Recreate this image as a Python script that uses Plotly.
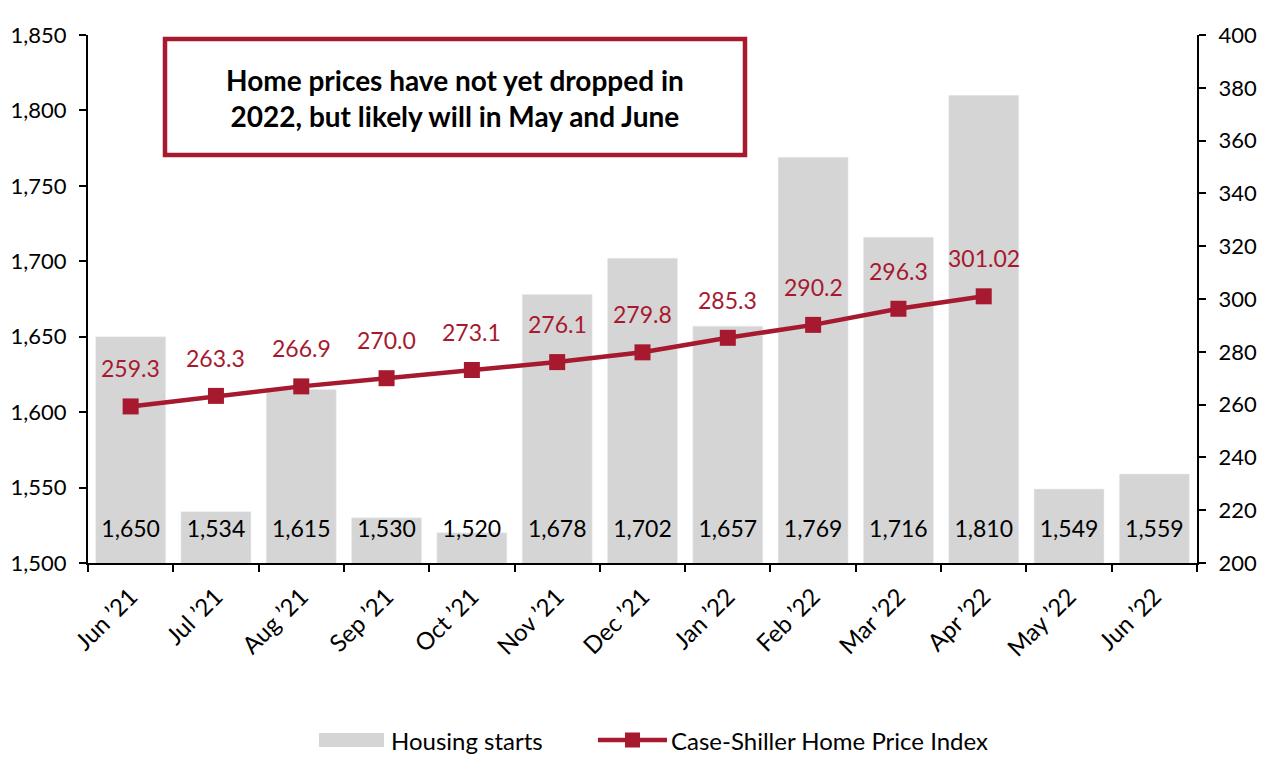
import plotly.graph_objects as go

months = ["Jun ’21", "Jul ’21", "Aug ’21", "Sep ’21", "Oct ’21", "Nov ’21", "Dec ’21",
          "Jan ’22", "Feb ’22", "Mar ’22", "Apr ’22", "May ’22", "Jun ’22"]
housing_starts = [1650, 1534, 1615, 1530, 1520, 1678, 1702, 1657, 1769, 1716, 1810, 1549, 1559]
price_months = months[:11]
price_index = [259.3, 263.3, 266.9, 270.0, 273.1, 276.1, 279.8, 285.3, 290.2, 296.3, 301.02]
price_labels = ["259.3", "263.3", "266.9", "270.0", "273.1", "276.1", "279.8", "285.3", "290.2", "296.3", "301.02"]
box_text = "Home prices have not yet dropped in<br>2022, but likely will in May and June"
legend_names = ["Housing starts", "Case-Shiller Home Price Index"]

FONT = "Lato"
RED = "#a6192e"
GRAY = "#d5d5d5"
FS = 22      # axis ticks
FSD = 23     # data labels
FSX = 24     # x ticks / legend

fig = go.Figure()
fig.add_trace(go.Bar(
    x=months, y=housing_starts, name=legend_names[0],
    marker=dict(color=GRAY), yaxis="y", showlegend=False,
))
# bar labels near the base
fig.add_trace(go.Scatter(
    x=months, y=[1521] * len(months), mode="text",
    text=[f"{v:,}" for v in housing_starts],
    textfont=dict(family=FONT, size=FSD, color="black"),
    showlegend=False, hoverinfo="skip", yaxis="y",
))
fig.add_trace(go.Scatter(
    x=price_months, y=price_index, name=legend_names[1],
    mode="lines+markers", yaxis="y2", showlegend=False,
    line=dict(color=RED, width=4.5),
    marker=dict(symbol="square", size=16, color=RED),
))
for m, v, t in zip(price_months, price_index, price_labels):
    fig.add_annotation(x=m, y=v, xref="x", yref="y2", text=t, showarrow=False,
                       yshift=38, font=dict(family=FONT, size=FSD, color=RED))

# plot area in screen pixels: x 88..1197, y 35..563
PX0, PW, PY0, PH = 88, 1109, 563, 528
def px(x):
    return (x - PX0) / PW
def py(y):
    return (PY0 - y) / PH

# headline box
fig.add_shape(type="rect", xref="paper", yref="paper",
              x0=px(165), x1=px(745), y0=py(155), y1=py(39),
              line=dict(color=RED, width=4.5), fillcolor="white", layer="above")
fig.add_annotation(xref="paper", yref="paper", x=px(455), y=py(98), text=box_text,
                   xanchor="center", yanchor="middle",
                   showarrow=False, font=dict(family=FONT, size=28, color="black", weight="bold"),
                   align="center")

# manual legend
fig.add_shape(type="rect", xref="paper", yref="paper",
              x0=px(319), x1=px(384), y0=py(747), y1=py(733),
              line=dict(width=0), fillcolor=GRAY)
fig.add_annotation(xref="paper", yref="paper", x=px(389), y=py(740), text=legend_names[0],
                   xanchor="left", yanchor="middle", showarrow=False,
                   font=dict(family=FONT, size=FSX, color="black"))
fig.add_shape(type="line", xref="paper", yref="paper",
              x0=px(598), x1=px(667), y0=py(740), y1=py(740),
              line=dict(color=RED, width=4.5))
fig.add_shape(type="rect", xref="paper", yref="paper",
              x0=px(625), x1=px(640), y0=py(747.5), y1=py(732.5),
              line=dict(width=0), fillcolor=RED)
fig.add_annotation(xref="paper", yref="paper", x=px(669), y=py(740), text=legend_names[1],
                   xanchor="left", yanchor="middle", showarrow=False,
                   font=dict(family=FONT, size=FSX, color="black"))

axis_common = dict(showline=True, linecolor="black", linewidth=2, ticks="outside",
                   ticklen=7, tickwidth=2, tickcolor="black", showgrid=False, zeroline=False,
                   automargin=False, ticklabelstandoff=8,
                   tickfont=dict(family=FONT, size=FS, color="black"))

# page renders the figure at offset (8, 8) with ~1264 px width
fig.update_layout(
    width=1264, height=761,
    margin=dict(l=80, r=75, t=27, b=206),
    plot_bgcolor="white", paper_bgcolor="white",
    bargap=0.18,
    showlegend=False,
    xaxis=dict(**{**axis_common, "tickfont": dict(family=FONT, size=FSX, color="black")},
               tickangle=-45, tickson="boundaries",
               categoryorder="array", categoryarray=months,
               range=[-0.5, len(months) - 0.5]),
    yaxis=dict(**axis_common, range=[1500, 1850], dtick=50, tickformat=","),
    yaxis2=dict(**axis_common, range=[200, 400], dtick=20, overlaying="y", side="right"),
    font=dict(family=FONT),
)

fig.write_html("out.html")
